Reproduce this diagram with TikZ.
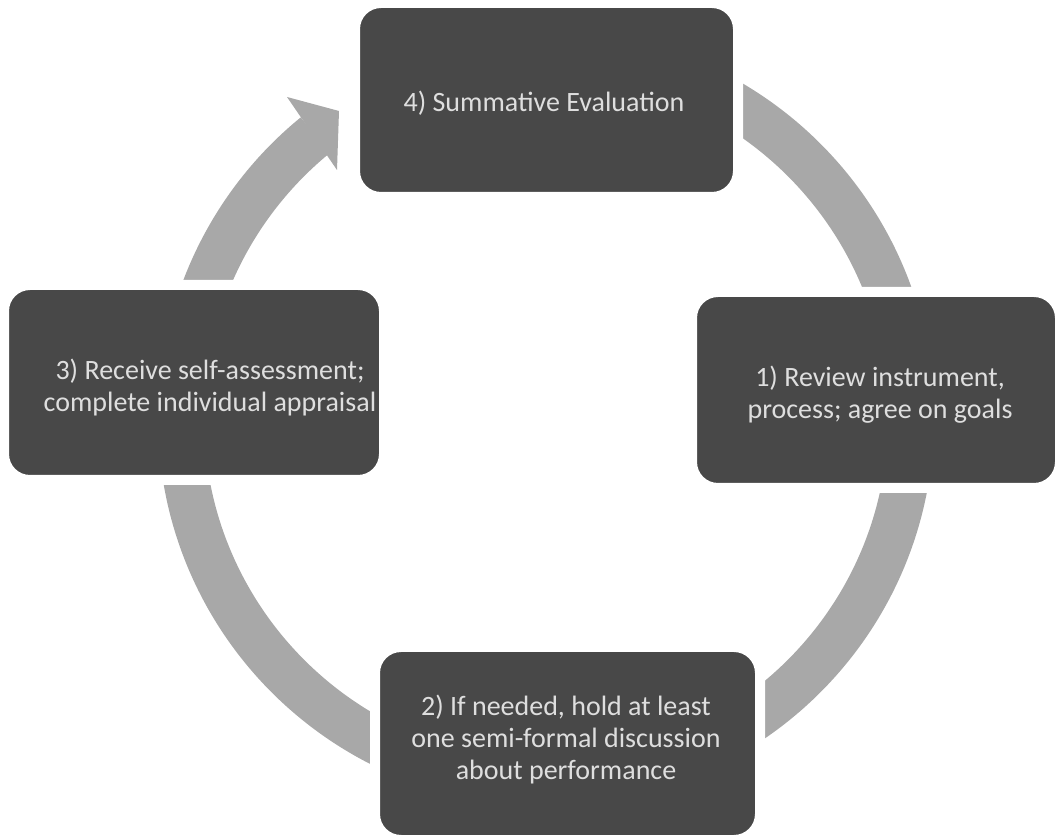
\documentclass[tikz,border=0pt]{standalone}
\usepackage{fontspec}
\setmainfont{Carlito}
\usetikzlibrary{calc}
\definecolor{boxfill}{RGB}{72,72,72}
\definecolor{ringgray}{RGB}{168,168,168}
\definecolor{labelgray}{RGB}{222,222,222}
\begin{document}
\begin{tikzpicture}[x=1pt,y=1pt,
  stepbox/.style 2 args={rectangle, rounded corners=26pt, fill=boxfill,
    draw=white, line width=10pt,
    minimum width=#1+10pt, minimum height=#2+10pt, inner sep=0pt},
  steptext/.style={text=labelgray, align=center,
    font=\fontsize{28}{32}\selectfont, inner sep=0pt},
  ring/.style={draw=ringgray, line width=46pt}
]
\useasboundingbox (0,0) rectangle (1057,835);

% cycle ring with its arrowhead
\coordinate (c) at (546,417);
\draw[ring] ($(c)+(90:365)$) arc[start angle=90, end angle=-230.8, radius=365];
\fill[ringgray] (287,738) -- (339,724) -- (337,665) -- cycle;

% the four steps
\node[stepbox={358pt}{186pt}] (n1) at (876,445) {};
\node[stepbox={375pt}{183pt}] (n2) at (567.5,91.5) {};
\node[stepbox={370pt}{185pt}] (n3) at (194,452.5) {};
\node[stepbox={373pt}{184pt}] (n4) at (546.5,735) {};

\node[steptext] (t1) at ($(n1.center)+(4,-5)$) {1) Review instrument,\\process; agree on goals};
\node[steptext] (t2) at ($(n2.center)+(-1.5,3.5)$) {2) If needed, hold at least\\one semi-formal discussion\\about performance};
\node[steptext] (t3) at ($(n3.center)+(16,-5)$) {3) Receive self-assessment;\\complete individual appraisal};
\node[steptext] (t4) at ($(n4.center)+(-2.5,-3)$) {4) Summative Evaluation};
\end{tikzpicture}
\end{document}
